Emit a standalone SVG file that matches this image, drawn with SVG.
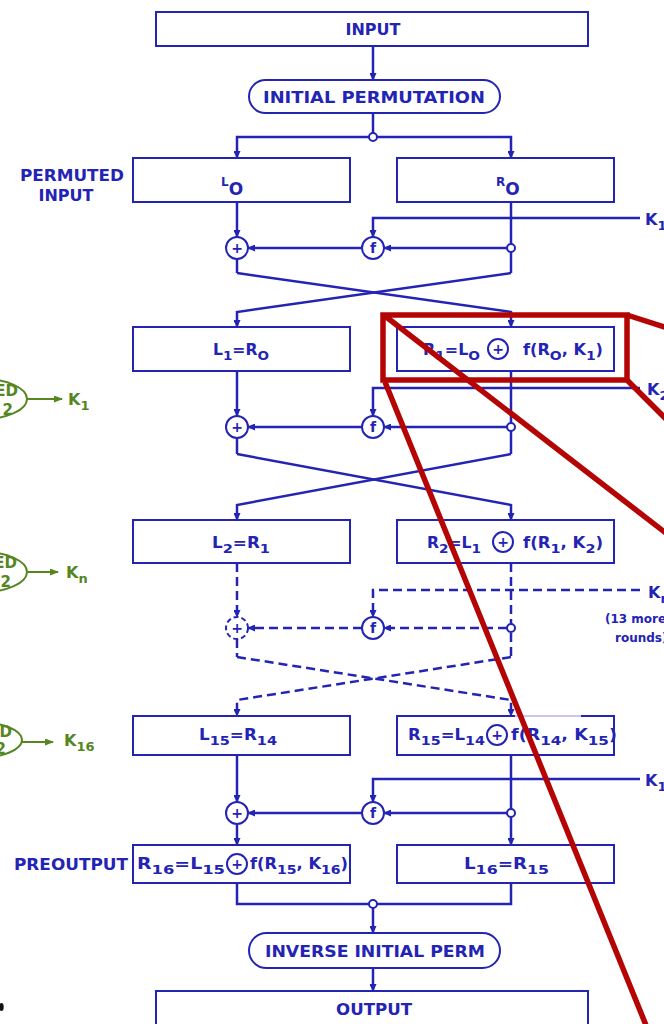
<svg xmlns="http://www.w3.org/2000/svg" width="664" height="1024" viewBox="0 0 664 1024">
  <style>
    .bx { fill: #fff; stroke: #2424b4; stroke-width: 2; }
    .ln { fill: none; stroke: #2424b4; stroke-width: 2.5; }
    .dsh { stroke-dasharray: 9 5; }
    .op { fill: #fff; stroke: #2424b4; stroke-width: 2; }
    .jn { fill: #fff; stroke: #2424b4; stroke-width: 2; }
    .t { font-family: "DejaVu Sans", "Liberation Sans", sans-serif; font-weight: bold; fill: #2424b4; }
    .big { font-size: 16px; }
    .lab { font-size: 15px; }
    .sub { font-size: 13px; }
    .opt { font-size: 14px; text-anchor: middle; }
    .note { font-size: 12px; }
    .g { font-family: "DejaVu Sans", "Liberation Sans", sans-serif; font-weight: bold; fill: #55861f; }
    .gl { fill: none; stroke: #55861f; stroke-width: 2; }
    .red { fill: none; stroke: #b50404; stroke-width: 5.5; }
  </style>
  <defs>
    <marker id="ah" markerUnits="userSpaceOnUse" markerWidth="8" markerHeight="7" refX="7" refY="3.5" orient="auto">
      <path d="M0,0 L8,3.5 L0,7 z" fill="#2424b4"/>
    </marker>
    <marker id="gah" markerUnits="userSpaceOnUse" markerWidth="9" markerHeight="7" refX="8" refY="3.5" orient="auto">
      <path d="M0,0 L9,3.5 L0,7 z" fill="#55861f"/>
    </marker>
  </defs>

  <rect width="664" height="1024" fill="#fff"/>

  <!-- connectors -->
  <g id="connectors">
    <!-- input and initial permutation -->
    <path class="ln" d="M373,46 V80" marker-end="url(#ah)"/>
    <path class="ln" d="M373,113 V133"/>
    <path class="ln" d="M369,137 H237 V158" marker-end="url(#ah)"/>
    <path class="ln" d="M377,137 H511 V158" marker-end="url(#ah)"/>

    <!-- round 1 -->
    <path class="ln" d="M237,202 V237" marker-end="url(#ah)"/>
    <path class="ln" d="M511,202 V273"/>
    <path class="ln" d="M640,218 H373 V237" marker-end="url(#ah)"/>
    <path class="ln" d="M507,248 H384" marker-end="url(#ah)"/>
    <path class="ln" d="M362,248 H248" marker-end="url(#ah)"/>
    <path class="ln" d="M237,259 V273"/>
    <path class="ln" d="M237,273 L511,312 V327" marker-end="url(#ah)"/>
    <path class="ln" d="M511,273 L237,312 V327" marker-end="url(#ah)"/>

    <!-- round 2 -->
    <path class="ln" d="M237,371 V416" marker-end="url(#ah)"/>
    <path class="ln" d="M511,371 V454"/>
    <path class="ln" d="M640,388 H373 V416" marker-end="url(#ah)"/>
    <path class="ln" d="M507,427 H384" marker-end="url(#ah)"/>
    <path class="ln" d="M362,427 H248" marker-end="url(#ah)"/>
    <path class="ln" d="M237,438 V454"/>
    <path class="ln" d="M237,454 L511,505 V520" marker-end="url(#ah)"/>
    <path class="ln" d="M511,454 L237,505 V520" marker-end="url(#ah)"/>

    <!-- rounds 3 to 15 (dashed) -->
    <path class="ln dsh" d="M237,563 V617" marker-end="url(#ah)"/>
    <path class="ln dsh" d="M511,563 V657"/>
    <path class="ln dsh" d="M640,590 H373 V617" marker-end="url(#ah)"/>
    <path class="ln dsh" d="M507,628 H384" marker-end="url(#ah)"/>
    <path class="ln dsh" d="M362,628 H248" marker-end="url(#ah)"/>
    <path class="ln dsh" d="M237,639 V657"/>
    <path class="ln dsh" d="M237,657 L511,700 V716" marker-end="url(#ah)"/>
    <path class="ln dsh" d="M511,657 L237,700 V716" marker-end="url(#ah)"/>

    <!-- round 16 -->
    <path class="ln" d="M237,755 V802" marker-end="url(#ah)"/>
    <path class="ln" d="M511,755 V845" marker-end="url(#ah)"/>
    <path class="ln" d="M640,779 H373 V802" marker-end="url(#ah)"/>
    <path class="ln" d="M507,813 H384" marker-end="url(#ah)"/>
    <path class="ln" d="M362,813 H248" marker-end="url(#ah)"/>
    <path class="ln" d="M237,824 V845" marker-end="url(#ah)"/>

    <!-- preoutput merge -->
    <path class="ln" d="M237,883 V904 H511 V883"/>
    <path class="ln" d="M373,908 V933" marker-end="url(#ah)"/>
    <path class="ln" d="M373,968 V991" marker-end="url(#ah)"/>

    <!-- junction dots -->
    <circle class="jn" cx="373" cy="137" r="4"/>
    <circle class="jn" cx="511" cy="248" r="4"/>
    <circle class="jn" cx="511" cy="427" r="4"/>
    <circle class="jn" cx="511" cy="628" r="4"/>
    <circle class="jn" cx="511" cy="813" r="4"/>
    <circle class="jn" cx="373" cy="904" r="4"/>
  </g>

  <!-- top of the cipher -->
  <g id="input">
    <rect class="bx" x="156" y="12" width="432" height="34"/>
    <text class="t big" x="373" y="35" text-anchor="middle">INPUT</text>
  </g>
  <g id="initial-permutation">
    <rect class="bx" x="249" y="80" width="251" height="33" rx="16.5"/>
    <text class="t big" x="374" y="103" text-anchor="middle" textLength="222" lengthAdjust="spacingAndGlyphs">INITIAL PERMUTATION</text>
  </g>
  <g id="permuted-input-label">
    <text class="t big" x="72" y="181" text-anchor="middle" textLength="104" lengthAdjust="spacingAndGlyphs">PERMUTED</text>
    <text class="t big" x="66" y="201" text-anchor="middle">INPUT</text>
  </g>
  <g id="L0">
    <rect class="bx" x="133" y="158" width="217" height="44"/>
    <text class="t" x="221" y="186" font-size="12">L<tspan font-size="17" dy="9">O</tspan></text>
  </g>
  <g id="R0">
    <rect class="bx" x="397" y="158" width="217" height="44"/>
    <text class="t" x="496" y="186" font-size="12">R<tspan font-size="17" dy="9">O</tspan></text>
  </g>

  <!-- round 1 operators -->
  <g id="xor1">
    <circle class="op" cx="237" cy="248" r="11"/>
    <text class="t opt" x="237" y="253">+</text>
  </g>
  <g id="f1">
    <circle class="op" cx="373" cy="248" r="11"/>
    <text class="t opt" x="373" y="253">f</text>
  </g>
  <g id="k1">
    <text class="t big" x="645" y="225">K<tspan class="sub" dy="5">1</tspan></text>
  </g>

  <!-- round 1 outputs -->
  <g id="L1">
    <rect class="bx" x="133" y="327" width="217" height="44"/>
    <text class="t lab" x="213" y="355" textLength="56" lengthAdjust="spacingAndGlyphs">L<tspan class="sub" dy="5">1</tspan><tspan dy="-5">=R</tspan><tspan class="sub" dy="5">O</tspan></text>
  </g>
  <g id="R1">
    <rect class="bx" x="397" y="327" width="217" height="44"/>
    <text class="t lab" x="423" y="355" textLength="57" lengthAdjust="spacingAndGlyphs">R<tspan class="sub" dy="5">1</tspan><tspan dy="-5">=L</tspan><tspan class="sub" dy="5">O</tspan></text>
    <circle class="op" cx="498" cy="349" r="10"/>
    <text class="t opt" x="498" y="354">+</text>
    <text class="t lab" x="523" y="355" textLength="80" lengthAdjust="spacingAndGlyphs">f(R<tspan class="sub" dy="5">O</tspan><tspan dy="-5">, K</tspan><tspan class="sub" dy="5">1</tspan><tspan dy="-5">)</tspan></text>
  </g>

  <!-- round 2 operators -->
  <g id="xor2">
    <circle class="op" cx="237" cy="427" r="11"/>
    <text class="t opt" x="237" y="432">+</text>
  </g>
  <g id="f2">
    <circle class="op" cx="373" cy="427" r="11"/>
    <text class="t opt" x="373" y="432">f</text>
  </g>
  <g id="k2">
    <text class="t big" x="647" y="395">K<tspan class="sub" dy="5">2</tspan></text>
  </g>

  <!-- round 2 outputs -->
  <g id="L2">
    <rect class="bx" x="133" y="520" width="217" height="43"/>
    <text class="t lab" x="212" y="548" textLength="58" lengthAdjust="spacingAndGlyphs">L<tspan class="sub" dy="5">2</tspan><tspan dy="-5">=R</tspan><tspan class="sub" dy="5">1</tspan></text>
  </g>
  <g id="R2">
    <rect class="bx" x="397" y="520" width="217" height="43"/>
    <text class="t lab" x="427" y="548" textLength="54" lengthAdjust="spacingAndGlyphs">R<tspan class="sub" dy="5">2</tspan><tspan dy="-5">=L</tspan><tspan class="sub" dy="5">1</tspan></text>
    <circle class="op" cx="503" cy="542" r="10"/>
    <text class="t opt" x="503" y="547">+</text>
    <text class="t lab" x="523" y="548" textLength="80" lengthAdjust="spacingAndGlyphs">f(R<tspan class="sub" dy="5">1</tspan><tspan dy="-5">, K</tspan><tspan class="sub" dy="5">2</tspan><tspan dy="-5">)</tspan></text>
  </g>

  <!-- rounds 3 to 15 operators -->
  <g id="xorn">
    <circle class="op" cx="237" cy="628" r="11" stroke-dasharray="5 3"/>
    <text class="t opt" x="237" y="633">+</text>
  </g>
  <g id="fn">
    <circle class="op" cx="373" cy="628" r="11"/>
    <text class="t opt" x="373" y="633">f</text>
  </g>
  <g id="kn">
    <text class="t big" x="648" y="598">K<tspan class="sub" dy="5">n</tspan></text>
  </g>
  <g id="more-rounds">
    <text class="t note" x="605" y="623">(13 more</text>
    <text class="t note" x="615" y="642">rounds)</text>
  </g>

  <!-- round 15 outputs -->
  <g id="L15">
    <rect class="bx" x="133" y="716" width="217" height="39"/>
    <text class="t lab" x="199" y="740" textLength="78" lengthAdjust="spacingAndGlyphs">L<tspan class="sub" dy="5">15</tspan><tspan dy="-5">=R</tspan><tspan class="sub" dy="5">14</tspan></text>
  </g>
  <g id="R15">
    <rect class="bx" x="397" y="716" width="217" height="39"/>
    <rect x="515" y="713" width="66" height="6" fill="#fff" opacity="0.75"/>
    <text class="t lab" x="408" y="740" textLength="77" lengthAdjust="spacingAndGlyphs">R<tspan class="sub" dy="5">15</tspan><tspan dy="-5">=L</tspan><tspan class="sub" dy="5">14</tspan></text>
    <circle class="op" cx="497" cy="735" r="10"/>
    <text class="t opt" x="497" y="740">+</text>
    <text class="t lab" x="511" y="740" textLength="106" lengthAdjust="spacingAndGlyphs">f(R<tspan class="sub" dy="5">14</tspan><tspan dy="-5">, K</tspan><tspan class="sub" dy="5">15</tspan><tspan dy="-5">)</tspan></text>
  </g>

  <!-- round 16 operators -->
  <g id="xor16">
    <circle class="op" cx="237" cy="813" r="11"/>
    <text class="t opt" x="237" y="818">+</text>
  </g>
  <g id="f16">
    <circle class="op" cx="373" cy="813" r="11"/>
    <text class="t opt" x="373" y="818">f</text>
  </g>
  <g id="k16">
    <text class="t big" x="645" y="786">K<tspan class="sub" dy="5">16</tspan></text>
  </g>

  <!-- preoutput -->
  <g id="preoutput-label">
    <text class="t big" x="128" y="870" text-anchor="end" textLength="114" lengthAdjust="spacingAndGlyphs">PREOUTPUT</text>
  </g>
  <g id="R16">
    <rect class="bx" x="133" y="845" width="217" height="38"/>
    <text class="t lab" x="137" y="869" textLength="88" lengthAdjust="spacingAndGlyphs">R<tspan class="sub" dy="5">16</tspan><tspan dy="-5">=L</tspan><tspan class="sub" dy="5">15</tspan></text>
    <circle class="op" cx="237" cy="864" r="10"/>
    <text class="t opt" x="237" y="869">+</text>
    <text class="t lab" x="250" y="869" textLength="98" lengthAdjust="spacingAndGlyphs">f(R<tspan class="sub" dy="5">15</tspan><tspan dy="-5">, K</tspan><tspan class="sub" dy="5">16</tspan><tspan dy="-5">)</tspan></text>
  </g>
  <g id="L16">
    <rect class="bx" x="397" y="845" width="217" height="38"/>
    <text class="t lab" x="464" y="869" textLength="85" lengthAdjust="spacingAndGlyphs">L<tspan class="sub" dy="5">16</tspan><tspan dy="-5">=R</tspan><tspan class="sub" dy="5">15</tspan></text>
  </g>

  <!-- bottom of the cipher -->
  <g id="inverse-initial-perm">
    <rect class="bx" x="249" y="933" width="251" height="35" rx="17.5"/>
    <text class="t big" x="375" y="957" text-anchor="middle" textLength="220" lengthAdjust="spacingAndGlyphs">INVERSE INITIAL PERM</text>
  </g>
  <g id="output">
    <rect class="bx" x="156" y="991" width="432" height="40"/>
    <text class="t big" x="374" y="1015" text-anchor="middle" textLength="76" lengthAdjust="spacingAndGlyphs">OUTPUT</text>
  </g>

  <!-- key schedule outputs at the left edge -->
  <g id="key1">
    <ellipse class="gl" cx="-18" cy="399" rx="45" ry="20"/>
    <text class="g" x="18" y="396" font-size="15" text-anchor="end">ED</text>
    <text class="g" x="13" y="415" font-size="15" text-anchor="end">2</text>
    <path class="gl" d="M27,399 H62" marker-end="url(#gah)"/>
    <text class="g" x="68" y="405" font-size="16">K<tspan font-size="13" dy="5">1</tspan></text>
  </g>
  <g id="keyn">
    <ellipse class="gl" cx="-18" cy="572" rx="45" ry="20"/>
    <text class="g" x="17" y="568" font-size="15" text-anchor="end">ED</text>
    <text class="g" x="11" y="587" font-size="15" text-anchor="end">2</text>
    <path class="gl" d="M27,572 H58" marker-end="url(#gah)"/>
    <text class="g" x="66" y="578" font-size="16">K<tspan font-size="13" dy="5">n</tspan></text>
  </g>
  <g id="key16">
    <ellipse class="gl" cx="-23" cy="740" rx="45" ry="18"/>
    <text class="g" x="12" y="737" font-size="15" text-anchor="end">ED</text>
    <text class="g" x="6" y="754" font-size="15" text-anchor="end">2</text>
    <path class="gl" d="M22,742 H53" marker-end="url(#gah)"/>
    <text class="g" x="64" y="746" font-size="16">K<tspan font-size="13" dy="5">16</tspan></text>
  </g>

  <!-- stray ink mark at the lower left edge -->
  <ellipse cx="1.5" cy="1007" rx="2.2" ry="4" fill="#111"/>

  <!-- red callout over the first round's R1 box -->
  <g id="callout">
    <rect class="red" x="383" y="315" width="244" height="65"/>
    <path class="red" d="M627,315 L680,332"/>
    <path class="red" d="M627,380 L680,433"/>
    <path class="red" d="M385,316 L680,544"/>
    <path class="red" d="M385,382 L652,1040"/>
  </g>
</svg>
